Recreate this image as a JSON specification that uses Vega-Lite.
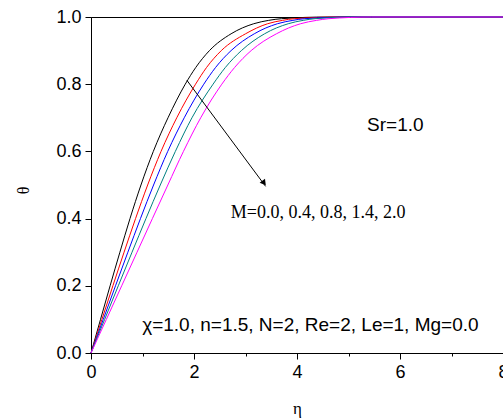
{
  "$schema": "https://vega.github.io/schema/vega-lite/v6.json",
  "width": 412,
  "height": 336,
  "autosize": {"type": "none"},
  "padding": {"left": 91, "top": 17, "right": 0, "bottom": 66},
  "background": "white",
  "config": {
    "view": {"stroke": "black", "strokeWidth": 1},
    "axis": {"domainColor": "black", "tickColor": "black", "labelColor": "black", "titleColor": "black", "labelFont": "Liberation Sans", "labelFontSize": 18, "grid": false, "domainWidth": 1, "tickWidth": 1}
  },
  "datasets": {
    "curves": [
      {"M": "0.0", "eta": 0, "theta": 0}, {"M": "0.0", "eta": 0.185, "theta": 0.1}, {"M": "0.0", "eta": 0.371, "theta": 0.2}, {"M": "0.0", "eta": 0.561, "theta": 0.3}, {"M": "0.0", "eta": 0.757, "theta": 0.4}, {"M": "0.0", "eta": 0.97, "theta": 0.5}, {"M": "0.0", "eta": 1.21, "theta": 0.6}, {"M": "0.0", "eta": 1.495, "theta": 0.7}, {"M": "0.0", "eta": 1.83, "theta": 0.8}, {"M": "0.0", "eta": 2.035, "theta": 0.85}, {"M": "0.0", "eta": 2.3, "theta": 0.9}, {"M": "0.0", "eta": 2.72, "theta": 0.95}, {"M": "0.0", "eta": 3.16, "theta": 0.98}, {"M": "0.0", "eta": 3.45, "theta": 0.99}, {"M": "0.0", "eta": 3.7, "theta": 0.995}, {"M": "0.0", "eta": 4.6, "theta": 1.0}, {"M": "0.0", "eta": 8, "theta": 1.0},
      {"M": "0.4", "eta": 0, "theta": 0}, {"M": "0.4", "eta": 0.212, "theta": 0.1}, {"M": "0.4", "eta": 0.425, "theta": 0.2}, {"M": "0.4", "eta": 0.642, "theta": 0.3}, {"M": "0.4", "eta": 0.865, "theta": 0.4}, {"M": "0.4", "eta": 1.1, "theta": 0.5}, {"M": "0.4", "eta": 1.36, "theta": 0.6}, {"M": "0.4", "eta": 1.665, "theta": 0.7}, {"M": "0.4", "eta": 2.03, "theta": 0.8}, {"M": "0.4", "eta": 2.245, "theta": 0.85}, {"M": "0.4", "eta": 2.53, "theta": 0.9}, {"M": "0.4", "eta": 3.0, "theta": 0.95}, {"M": "0.4", "eta": 3.43, "theta": 0.98}, {"M": "0.4", "eta": 3.72, "theta": 0.99}, {"M": "0.4", "eta": 3.95, "theta": 0.995}, {"M": "0.4", "eta": 4.85, "theta": 1.0}, {"M": "0.4", "eta": 8, "theta": 1.0},
      {"M": "0.8", "eta": 0, "theta": 0}, {"M": "0.8", "eta": 0.238, "theta": 0.1}, {"M": "0.8", "eta": 0.476, "theta": 0.2}, {"M": "0.8", "eta": 0.716, "theta": 0.3}, {"M": "0.8", "eta": 0.96, "theta": 0.4}, {"M": "0.8", "eta": 1.215, "theta": 0.5}, {"M": "0.8", "eta": 1.49, "theta": 0.6}, {"M": "0.8", "eta": 1.81, "theta": 0.7}, {"M": "0.8", "eta": 2.19, "theta": 0.8}, {"M": "0.8", "eta": 2.42, "theta": 0.85}, {"M": "0.8", "eta": 2.72, "theta": 0.9}, {"M": "0.8", "eta": 3.17, "theta": 0.95}, {"M": "0.8", "eta": 3.62, "theta": 0.98}, {"M": "0.8", "eta": 3.92, "theta": 0.99}, {"M": "0.8", "eta": 4.15, "theta": 0.995}, {"M": "0.8", "eta": 5.05, "theta": 1.0}, {"M": "0.8", "eta": 8, "theta": 1.0},
      {"M": "1.4", "eta": 0, "theta": 0}, {"M": "1.4", "eta": 0.265, "theta": 0.1}, {"M": "1.4", "eta": 0.53, "theta": 0.2}, {"M": "1.4", "eta": 0.797, "theta": 0.3}, {"M": "1.4", "eta": 1.067, "theta": 0.4}, {"M": "1.4", "eta": 1.345, "theta": 0.5}, {"M": "1.4", "eta": 1.638, "theta": 0.6}, {"M": "1.4", "eta": 1.96, "theta": 0.7}, {"M": "1.4", "eta": 2.37, "theta": 0.8}, {"M": "1.4", "eta": 2.61, "theta": 0.85}, {"M": "1.4", "eta": 2.92, "theta": 0.9}, {"M": "1.4", "eta": 3.37, "theta": 0.95}, {"M": "1.4", "eta": 3.83, "theta": 0.98}, {"M": "1.4", "eta": 4.12, "theta": 0.99}, {"M": "1.4", "eta": 4.35, "theta": 0.995}, {"M": "1.4", "eta": 5.25, "theta": 1.0}, {"M": "1.4", "eta": 8, "theta": 1.0},
      {"M": "2.0", "eta": 0, "theta": 0}, {"M": "2.0", "eta": 0.298, "theta": 0.1}, {"M": "2.0", "eta": 0.596, "theta": 0.2}, {"M": "2.0", "eta": 0.894, "theta": 0.3}, {"M": "2.0", "eta": 1.192, "theta": 0.4}, {"M": "2.0", "eta": 1.492, "theta": 0.5}, {"M": "2.0", "eta": 1.795, "theta": 0.6}, {"M": "2.0", "eta": 2.13, "theta": 0.7}, {"M": "2.0", "eta": 2.54, "theta": 0.8}, {"M": "2.0", "eta": 2.79, "theta": 0.85}, {"M": "2.0", "eta": 3.11, "theta": 0.9}, {"M": "2.0", "eta": 3.6, "theta": 0.95}, {"M": "2.0", "eta": 4.07, "theta": 0.98}, {"M": "2.0", "eta": 4.38, "theta": 0.99}, {"M": "2.0", "eta": 4.62, "theta": 0.995}, {"M": "2.0", "eta": 5.45, "theta": 1.0}, {"M": "2.0", "eta": 8, "theta": 1.0}
    ]
  },
  "layer": [
    {
      "data": {"name": "curves"},
      "mark": {"type": "line", "interpolate": "monotone", "strokeWidth": 1},
      "encoding": {
        "x": {
          "field": "eta", "type": "quantitative",
          "scale": {"domain": [0, 8], "nice": false},
          "axis": {
            "values": [0, 1, 2, 3, 4, 5, 6, 7, 8],
            "labelExpr": "datum.value % 2 === 0 ? datum.label : ''",
            "tickSize": {"condition": {"test": "datum.value % 2 === 0", "value": 6}, "value": 3},
            "labelPadding": 4, "labelFlush": false, "labelOverlap": false,
            "title": "η", "titleFont": "Liberation Serif", "titleFontSize": 17, "titleFontWeight": "normal",
            "titleX": 206, "titleY": 55, "titleBaseline": "middle", "titleAlign": "center"
          }
        },
        "y": {
          "field": "theta", "type": "quantitative",
          "scale": {"domain": [0, 1], "nice": false},
          "axis": {
            "values": [0, 0.1, 0.2, 0.3, 0.4, 0.5, 0.6, 0.7, 0.8, 0.9, 1.0],
            "format": ".1f",
            "labelExpr": "round(datum.value * 10) % 2 === 0 ? datum.label : ''",
            "tickSize": {"condition": {"test": "round(datum.value * 10) % 2 === 0", "value": 6}, "value": 3},
            "labelPadding": 4, "labelFlush": false, "labelOverlap": false,
            "title": "θ", "titleFont": "Liberation Serif", "titleFontSize": 16, "titleFontWeight": "normal",
            "titleX": -68, "titleY": 173, "titleBaseline": "middle", "titleAlign": "center", "titleAngle": -90
          }
        },
        "color": {
          "field": "M", "type": "nominal",
          "scale": {"domain": ["0.0", "0.4", "0.8", "1.4", "2.0"], "range": ["#000000", "#ff0000", "#0000ff", "#008080", "#ff00ff"]},
          "legend": null
        }
      }
    },
    {
      "data": {"values": [{"x0": 1.862, "y0": 0.8116, "x1": 3.39, "y1": 0.496}]},
      "mark": {"type": "rule", "color": "black", "strokeWidth": 1},
      "encoding": {
        "x": {"field": "x0", "type": "quantitative"},
        "y": {"field": "y0", "type": "quantitative"},
        "x2": {"field": "x1"},
        "y2": {"field": "y1"}
      }
    },
    {
      "data": {"values": [{"x": 3.36, "y": 0.506}]},
      "mark": {"type": "point", "shape": "triangle-up", "filled": true, "color": "black", "opacity": 1, "size": 45, "angle": 143.5},
      "encoding": {
        "x": {"field": "x", "type": "quantitative"},
        "y": {"field": "y", "type": "quantitative"}
      }
    },
    {
      "data": {"values": [{"label": "Sr=1.0", "x": 5.91, "y": 0.678}, {"label": "χ=1.0, n=1.5, N=2, Re=2, Le=1, Mg=0.0", "x": 4.26, "y": 0.084}]},
      "mark": {"type": "text", "font": "Liberation Sans", "fontSize": 19, "align": "center", "baseline": "middle", "color": "black"},
      "encoding": {
        "x": {"field": "x", "type": "quantitative"},
        "y": {"field": "y", "type": "quantitative"},
        "text": {"field": "label"}
      }
    },
    {
      "data": {"values": [{"label": "M=0.0, 0.4, 0.8, 1.4, 2.0", "x": 4.41, "y": 0.416}]},
      "mark": {"type": "text", "font": "Liberation Serif", "fontSize": 18, "align": "center", "baseline": "middle", "color": "black"},
      "encoding": {
        "x": {"field": "x", "type": "quantitative"},
        "y": {"field": "y", "type": "quantitative"},
        "text": {"field": "label"}
      }
    }
  ]
}
